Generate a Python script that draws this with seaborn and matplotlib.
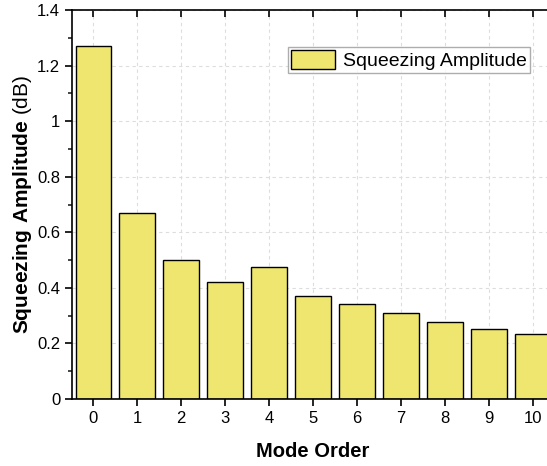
import pandas as pd
import numpy as np
import matplotlib
matplotlib.use("Agg")
import matplotlib.pyplot as plt
import seaborn as sns
from matplotlib.ticker import MultipleLocator

mode_order = [0, 1, 2, 3, 4, 5, 6, 7, 8, 9, 10]
squeezing_db = [1.27, 0.67, 0.50, 0.42, 0.475, 0.37, 0.342, 0.31, 0.277, 0.251, 0.235]

df = pd.DataFrame({"Mode Order": mode_order, "Squeezing Amplitude": squeezing_db})

sns.set_style("white")
plt.rcParams['font.family'] = ['Liberation Sans', 'DejaVu Sans']
plt.rcParams['mathtext.fontset'] = 'custom'
plt.rcParams['mathtext.rm'] = 'Liberation Sans'
plt.rcParams['mathtext.bf'] = 'Liberation Sans:bold'
plt.rcParams['text.color'] = 'black'
plt.rcParams['axes.labelcolor'] = 'black'

fig = plt.figure(figsize=(5.47, 4.66), dpi=100)
ax = fig.add_axes([0.1316, 0.1438, 0.8814, 0.8347])

sns.barplot(data=df, x="Mode Order", y="Squeezing Amplitude", color="#EEE66E",
            edgecolor="black", linewidth=1.0, width=0.8, saturation=1,
            label="Squeezing Amplitude", ax=ax, zorder=2)

ax.set_xlim(-0.48, 10.48)
ax.set_ylim(0, 1.4)
ax.yaxis.set_minor_locator(MultipleLocator(0.1))
ax.set_yticks([0, 0.2, 0.4, 0.6, 0.8, 1.0, 1.2, 1.4])
ax.set_yticklabels(["0", "0.2", "0.4", "0.6", "0.8", "1", "1.2", "1.4"])

ax.grid(True, linestyle=(0, (3, 3)), color="#dddddd", linewidth=0.8, zorder=0)
ax.set_axisbelow(True)

for s in ax.spines.values():
    s.set_color("black")
    s.set_linewidth(1.2)

ax.tick_params(axis="both", which="major", direction="out", length=5, width=1.2,
               labelsize=12, colors="black", left=True, bottom=True)
ax.tick_params(axis="y", which="minor", direction="out", length=3, width=1.2, left=True)
ax.tick_params(axis="x", which="major", top=True)
# top ticks point inward
for t in ax.xaxis.get_major_ticks():
    t.tick2line.set_marker(matplotlib.lines.TICKDOWN)
    t.tick2line.set_markersize(5)
    t.tick2line.set_markeredgewidth(1.2)

ax.set_xlabel("Mode Order", fontsize=14.5, fontweight="bold", labelpad=12, color="black")
ax.set_ylabel(r"$\mathbf{Squeezing\ Amplitude}$ (dB)", fontsize=15, labelpad=2, color="black")

leg = ax.legend(loc="upper right", bbox_to_anchor=(0.95, 0.905), fontsize=14,
                frameon=True, fancybox=False, edgecolor="#999999",
                handlelength=2.3, handleheight=1.1, borderpad=0.15,
                handletextpad=0.4, borderaxespad=0)
leg.get_frame().set_linewidth(1.0)
for txt in leg.get_texts():
    txt.set_color("black")

fig.savefig("out.png", dpi=100)
